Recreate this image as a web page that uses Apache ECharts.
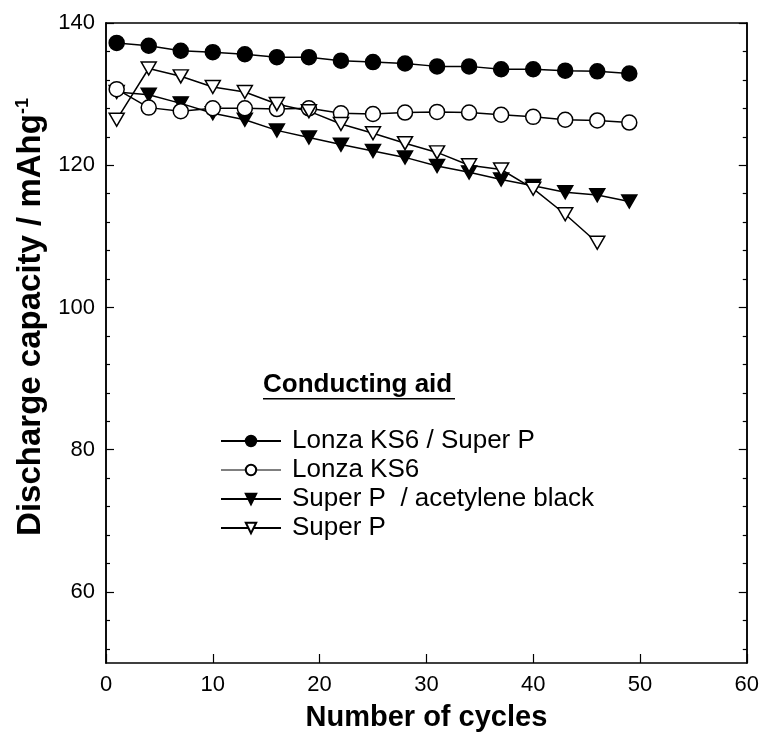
<!DOCTYPE html>
<html lang="en">

<head>
  <meta charset="UTF-8">
  <title>Discharge capacity vs cycles</title>
</head>

<body style="margin:0">
  <div id="main" style="width: 762px;height:737px;"></div>
  <script src="https://cdn.jsdelivr.net/npm/echarts@6/dist/echarts.min.js"></script>
  <script>
    // cycle numbers
    const cycles = [1, 4, 7, 10, 13, 16, 19, 22, 25, 28, 31, 34, 37, 40, 43, 46, 49];
    // discharge capacity / mAh g-1
    const ks6SuperP = [137.2, 136.8, 136.1, 135.9, 135.6, 135.2, 135.2, 134.7, 134.5, 134.3, 133.9, 133.9, 133.5, 133.5, 133.3, 133.2, 132.9];
    const ks6 = [130.7, 128.1, 127.6, 128.0, 128.0, 127.9, 128.0, 127.3, 127.2, 127.4, 127.5, 127.4, 127.1, 126.8, 126.4, 126.3, 126.0];
    const superPAcetylene = [130.3, 129.9, 128.7, 127.3, 126.4, 124.9, 123.9, 122.9, 122.0, 121.1, 119.9, 119.0, 118.0, 117.1, 116.2, 115.8, 114.9];
    const superP = [126.4, 133.6, 132.5, 131.0, 130.3, 128.6, 127.6, 125.8, 124.5, 123.1, 121.8, 120.0, 119.4, 116.7, 113.1, 109.1];

    const seriesNames = ['Lonza KS6 / Super P', 'Lonza KS6', 'Super P  / acetylene black', 'Super P'];
    const xTicks = [0, 10, 20, 30, 40, 50, 60];
    const yMajor = [60, 80, 100, 120, 140];
    const yMinor = [52, 56, 64, 68, 72, 76, 84, 88, 92, 96, 104, 108, 112, 116, 124, 128, 132, 136];

    const FONT = 'Liberation Sans, Arial, Helvetica, sans-serif';
    const zip = (ys) => ys.map((v, i) => [cycles[i], v]);

    const myChart = echarts.init(document.getElementById('main'));

    // y axes: major/minor ticks on both sides, only the first one carries labels
    const yAxisBase = (pos, ticks, len, show) => ({
      type: 'value',
      position: pos,
      min: 50,
      max: 140,
      splitLine: { show: false },
      axisLine: { show: true, onZero: false, lineStyle: { color: '#000', width: 1.5 } },
      axisTick: { show: true, inside: true, length: len, customValues: ticks, lineStyle: { color: '#000', width: 1.2 } },
      axisLabel: { show: show, customValues: yMajor, fontSize: 22, color: '#000', fontFamily: FONT, margin: 11 }
    });

    const yAxes = [
      yAxisBase('left', yMajor, 8, true),
      yAxisBase('left', yMinor, 4, false),
      yAxisBase('right', yMajor, 8, false),
      yAxisBase('right', yMinor, 4, false)
    ];
    yAxes[0].name = '{a|Discharge capacity / mAhg}{b|-1}';
    yAxes[0].nameLocation = 'middle';
    yAxes[0].nameGap = 53;
    yAxes[0].nameTextStyle = {
      padding: [0, 0, 0, 52],
      rich: {
        a: { fontSize: 33, fontWeight: 'bold', fontFamily: FONT, color: '#000' },
        b: { fontSize: 18, fontWeight: 'bold', fontFamily: FONT, color: '#000', verticalAlign: 'top', padding: [0, 0, 16, 0] }
      }
    };

    const lineSeries = (name, data, symbol, filled, size, rotate) => ({
      name: name,
      type: 'line',
      data: data,
      symbol: symbol,
      symbolSize: size,
      symbolRotate: rotate,
      showAllSymbol: true,
      z: filled ? 3 : 4,
      lineStyle: { color: '#000', width: 1.5 },
      itemStyle: { color: filled ? '#000' : '#fff', borderColor: '#000', borderWidth: 1.5 },
      emphasis: { disabled: true }
    });

    const option = {
      animation: false,
      grid: { left: 106, right: 14, top: 23, bottom: 73 },
      xAxis: [{
        type: 'value',
        min: 0,
        max: 60,
        interval: 10,
        name: 'Number of cycles',
        nameLocation: 'middle',
        nameGap: 40,
        nameTextStyle: { fontSize: 29, fontWeight: 'bold', fontFamily: FONT, color: '#000' },
        splitLine: { show: false },
        axisLine: { onZero: false, lineStyle: { color: '#000', width: 1.5 } },
        axisTick: { inside: true, length: 9, customValues: xTicks, lineStyle: { color: '#000', width: 1.2 } },
        axisLabel: { fontSize: 22, color: '#000', fontFamily: FONT, margin: 11 }
      }, {
        type: 'value',
        position: 'top',
        min: 0,
        max: 60,
        splitLine: { show: false },
        axisLine: { show: true, onZero: false, lineStyle: { color: '#000', width: 1.5 } },
        axisTick: { show: false },
        axisLabel: { show: false }
      }],
      yAxis: yAxes,
      legend: {
        orient: 'vertical',
        left: 215,
        top: 423,
        itemWidth: 60,
        itemHeight: 13,
        itemGap: 3,
        textStyle: { fontSize: 26, lineHeight: 25, color: '#000', fontFamily: FONT, padding: [0, 0, 0, 6] },
        selectedMode: false,
        data: seriesNames.map((n, i) => ({
          name: n,
          lineStyle: { width: i === 1 ? 1 : 2 }
        }))
      },
      graphic: [{
        type: 'group',
        left: 263,
        top: 372,
        children: [{
          type: 'text',
          style: { text: 'Conducting aid', fontSize: 26, fontWeight: 'bold', fontFamily: FONT, fill: '#000' }
        }, {
          type: 'rect',
          shape: { x: 0, y: 26, width: 192, height: 1.6 },
          style: { fill: '#000' }
        }]
      }],
      series: [
        lineSeries(seriesNames[0], zip(ks6SuperP), 'circle', true, 15, 0),
        lineSeries(seriesNames[1], zip(ks6), 'circle', false, 15, 0),
        lineSeries(seriesNames[2], zip(superPAcetylene), 'triangle', true, [15, 13], 180),
        lineSeries(seriesNames[3], zip(superP), 'triangle', false, [15, 13], 180)
      ]
    };

    myChart.setOption(option);
  </script>
</body>

</html>
